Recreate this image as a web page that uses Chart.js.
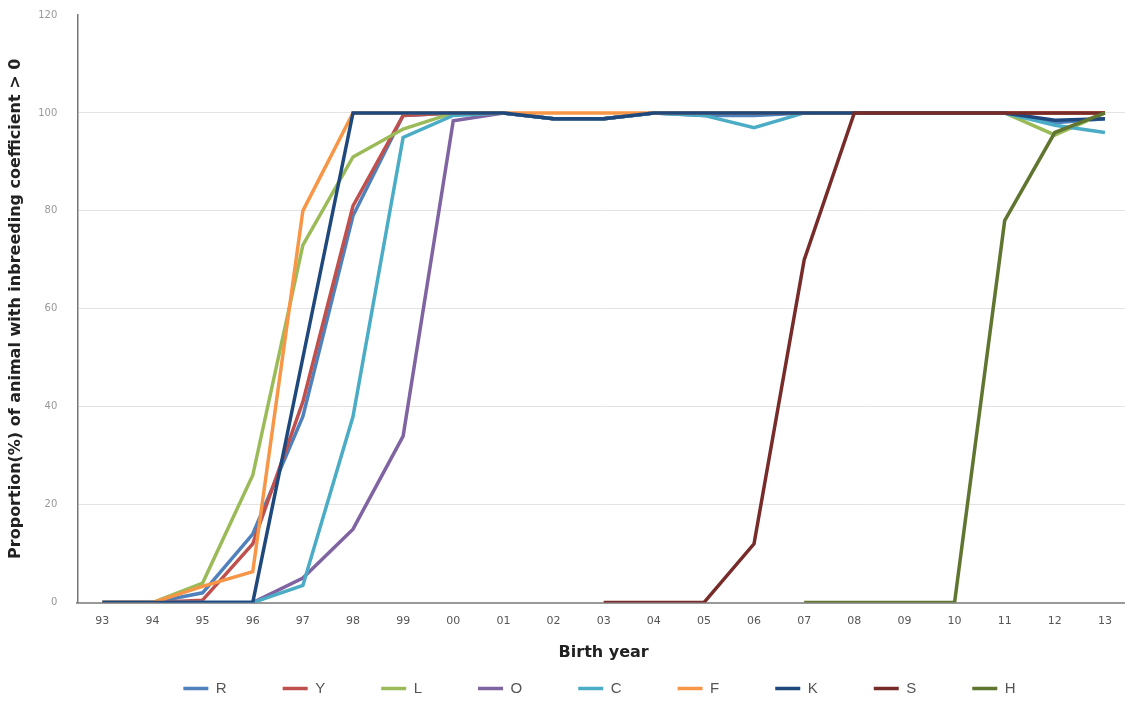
<!DOCTYPE html>
<html>
<head>
<meta charset="utf-8">
<script src="https://cdn.jsdelivr.net/npm/chart.js@4/dist/chart.umd.min.js"></script>
<style>
  html, body { margin: 0; padding: 0; background: #fff; overflow: hidden; }
  #wrap { width: 1130px; height: 701px; }
</style>
</head>
<body>
<div id="wrap"><canvas id="myChart"></canvas></div>
<script>
var labels = ['93','94','95','96','97','98','99','00','01','02','03','04','05','06','07','08','09','10','11','12','13'];
var yTicks = [0, 20, 40, 60, 80, 100, 120];

var R = [0,0,2,14,38,79,99.5,100,100,98.8,98.8,100,99.5,99.5,100,100,100,100,100,98,98.8];
var Y = [0,0,0.5,12,41,81,99.5,100,100,98.8,98.8,100,100,100,100,100,100,100,100,100,100];
var L = [0,0,4,26,73,91,96.7,100,100,98.8,98.8,100,100,100,100,100,100,100,100,95.5,100];
var O = [0,0,0,0,5,15,34,98.4,100,98.8,98.8,100,100,100,100,100,100,100,100,100,100];
var C = [0,0,0,0,3.5,38,95,99.5,100,98.8,98.8,100,99.5,97,100,100,100,100,100,97.5,96];
var F = [0,0,3.3,6.3,80,100,100,100,100,100,100,100,100,100,100,100,100,100,100,100,100];
var K = [0,0,0,0,50,100,100,100,100,98.8,98.8,100,100,100,100,100,100,100,100,98.5,98.8];
var S = [null,null,null,null,null,null,null,null,null,null,0,0,0,12,70,100,100,100,100,100,100];
var H = [null,null,null,null,null,null,null,null,null,null,null,null,null,null,0,0,0,0,78,96,100];

var seriesNames = ['R','Y','L','O','C','F','K','S','H'];
var seriesData = [R, Y, L, O, C, F, K, S, H];
var seriesColors = ['#4F81BD','#C0504D','#9BBB59','#8064A2','#4BACC6','#F79646','#1F497D','#772C2A','#5F7530'];

var datasets = seriesNames.map(function(n, i) {
  return {
    label: n,
    data: seriesData[i],
    borderColor: seriesColors[i],
    backgroundColor: seriesColors[i],
    borderWidth: 3.5,
    pointRadius: 0,
    tension: 0,
    spanGaps: false,
    order: seriesNames.length - i   // later series drawn on top, like the original
  };
});

const ctx = document.getElementById('myChart');
new Chart(ctx, {
  type: 'line',
  data: { labels: labels, datasets: datasets },
  options: {
    responsive: true,
    maintainAspectRatio: false,
    animation: false,
    layout: { padding: { left: 6, right: 0, top: 15, bottom: -5 } },
    plugins: {
      tooltip: { enabled: false },
      legend: {
        position: 'bottom',
        fullSize: false,
        labels: {
          usePointStyle: true,
          pointStyle: 'line',
          pointStyleWidth: 25,
          padding: 6,
          color: '#555',
          font: { family: 'Liberation Sans', size: 15 },
          sort: function(a, b) { return a.datasetIndex - b.datasetIndex; },
          generateLabels: function(chart) {
            var items = Chart.defaults.plugins.legend.labels.generateLabels(chart);
            // pad the text so items sit ~100px apart like the original
            items.forEach(function(it) {
              if (it.datasetIndex < seriesNames.length - 1) it.text = it.text + '            ';
              else it.text = it.text + '  ';
            });
            return items;
          }
        }
      }
    },
    scales: {
      x: {
        offset: true,
        grid: { display: false, drawTicks: false },
        border: { color: '#999', width: 2 },
        ticks: { color: '#555', padding: 12, font: { family: 'DejaVu Sans', size: 11 } },
        title: {
          display: true, text: 'Birth year', color: '#222',
          padding: { top: 3, bottom: 13 },
          font: { family: 'DejaVu Sans', size: 16, weight: 'bold' }
        }
      },
      y: {
        min: 0, max: 120,
        afterBuildTicks: function(axis) { axis.ticks = yTicks.map(function(v) { return { value: v }; }); },
        grid: {
          drawTicks: true,
          tickLength: 18,
          tickColor: 'rgba(0,0,0,0)',
          color: function(c) { return c.tick && c.tick.value === 120 ? 'rgba(0,0,0,0)' : '#e3e3e3'; }
        },
        border: { color: '#777', width: 1.5 },
        ticks: { color: '#999', padding: 2, font: { family: 'DejaVu Sans', size: 10 } },
        title: {
          display: true, text: 'Proportion(%) of animal with inbreeding coefficient > 0', color: '#222',
          padding: { top: 0, bottom: 11 },
          font: { family: 'DejaVu Sans', size: 16, weight: 'bold' }
        }
      }
    }
  }
});
</script>
</body>
</html>
